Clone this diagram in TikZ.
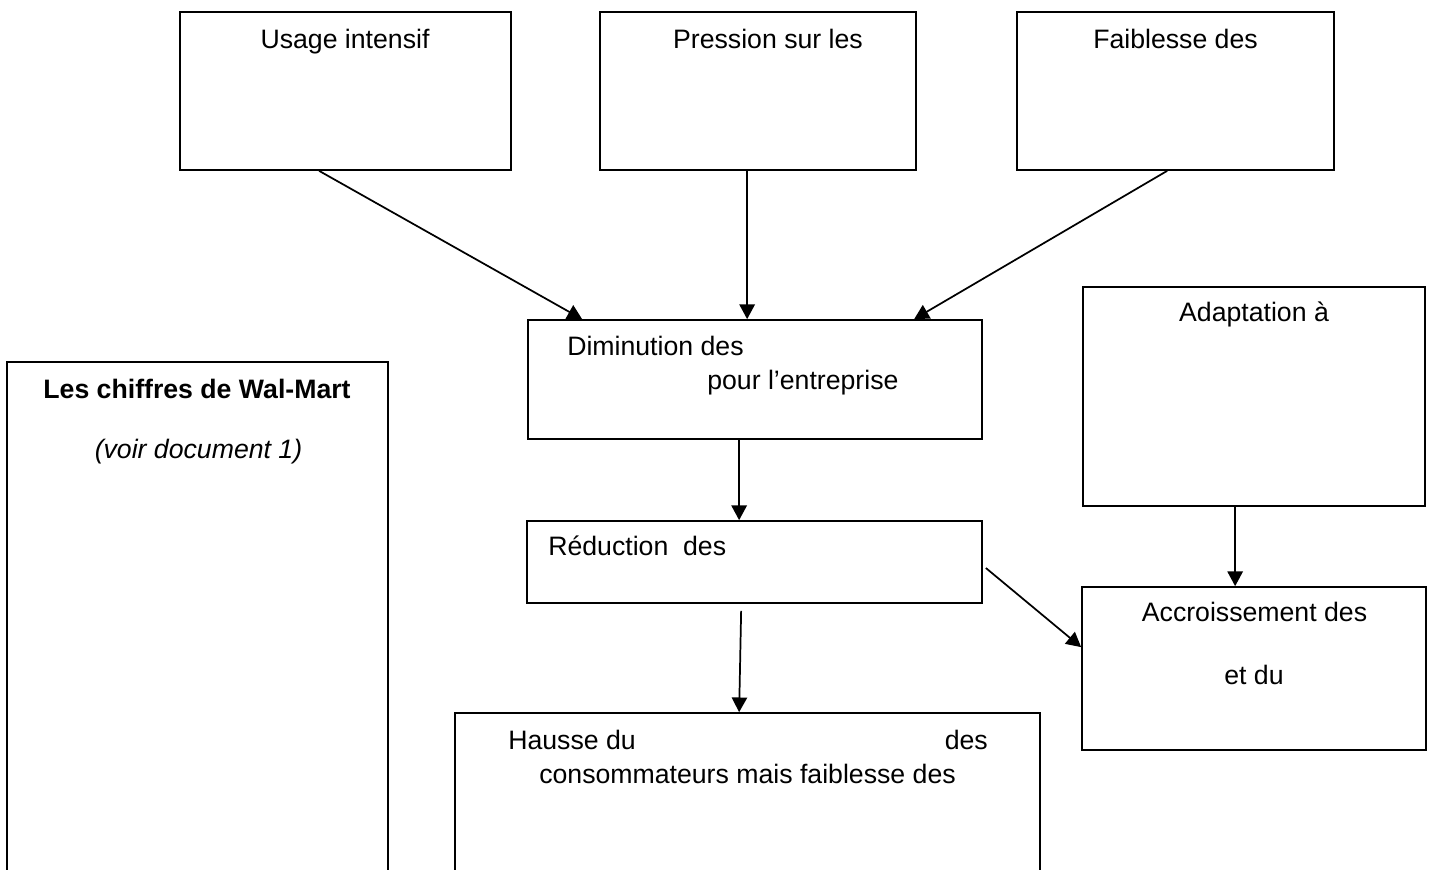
\documentclass[tikz,border=0pt]{standalone}
\usepackage{fontspec}
\setmainfont{Liberation Sans}
\usetikzlibrary{arrows.meta,calc}
\begin{document}
\begin{tikzpicture}[x=0.75pt,y=-0.75pt,
  box/.style={draw,line width=1.3pt,rectangle,inner sep=0pt},
  txt/.style={inner sep=0pt,font=\fontsize{20}{24}\selectfont},
  arr/.style={line width=1.3pt,-{Triangle[length=11pt,width=11.5pt]}}]
\clip (0,0) rectangle (1434,869);
\fill[white] (0,0) rectangle (1434,869);
% boxes
\node[box,minimum width={331*0.75pt},minimum height={158*0.75pt}] (A) at (345.5,91) {};
\node[box,minimum width={316*0.75pt},minimum height={158*0.75pt}] (B) at (758,91) {};
\node[box,minimum width={317*0.75pt},minimum height={158*0.75pt}] (C) at (1175.5,91) {};
\node[box,minimum width={454*0.75pt},minimum height={119*0.75pt}] (D) at (755,379.5) {};
\node[box,minimum width={342*0.75pt},minimum height={219*0.75pt}] (E) at (1254,396.5) {};
\node[box,minimum width={381*0.75pt},minimum height={538*0.75pt}] (L) at (197.5,631) {};
\node[box,minimum width={455*0.75pt},minimum height={82*0.75pt}] (F) at (754.5,562) {};
\node[box,minimum width={344*0.75pt},minimum height={163*0.75pt}] (G) at (1254,668.5) {};
\node[box,minimum width={585*0.75pt},minimum height={187*0.75pt}] (H) at (747.5,806.5) {};
% texts
\node[txt,anchor=base] (tA) at (345,48) {Usage intensif};
\node[txt,anchor=base] (tB) at (768,48) {Pression sur les};
\node[txt,anchor=base] (tC) at (1175.5,48) {Faiblesse des};
\node[txt,anchor=base west] (tD1) at (567,355) {Diminution des};
\node[txt,anchor=base west] (tD2) at (707,389) {pour l’entreprise};
\node[txt,anchor=base] (tE) at (1254,321) {Adaptation à};
\node[txt,anchor=base,font=\fontsize{20}{24}\selectfont\bfseries] (tL1) at (197,398) {Les chiffres de Wal-Mart};
\node[txt,anchor=base,font=\fontsize{20}{24}\selectfont\itshape] (tL2) at (198.5,458) {(voir document 1)};
\node[txt,anchor=base west] (tF) at (548,555) {Réduction\ \ des};
\node[txt,anchor=base] (tG1) at (1254.5,621) {Accroissement des};
\node[txt,anchor=base] (tG2) at (1254,684) {et du};
\node[txt,anchor=base west] (tH1) at (508,749) {Hausse du};
\node[txt,anchor=base east] (tH2) at (988,749) {des};
\node[txt,anchor=base] (tH3) at (747.5,783) {consommateurs mais faiblesse des};
% connectors
\draw[arr] ($(A.south west)+(140,0)$) -- ($(D.north west)+(55,0)$);
\draw[arr] ($(B.south west)+(148,0)$) -- ($(D.north west)+(220,0)$);
\draw[arr] ($(C.south west)+(151,0)$) -- ($(D.north west)+(387,0)$);
\draw[arr] ($(D.south west)+(212,0)$) -- ($(F.north west)+(213,0)$);
\draw[arr] ($(F.south west)+(215,7)$) -- ($(H.north west)+(285,0)$);
\draw[arr] ($(F.east)+(3,6)$) -- ($(G.north west)+(0,61)$);
\draw[arr] ($(E.south west)+(153,0)$) -- ($(G.north west)+(154,0)$);
\end{tikzpicture}
\end{document}
